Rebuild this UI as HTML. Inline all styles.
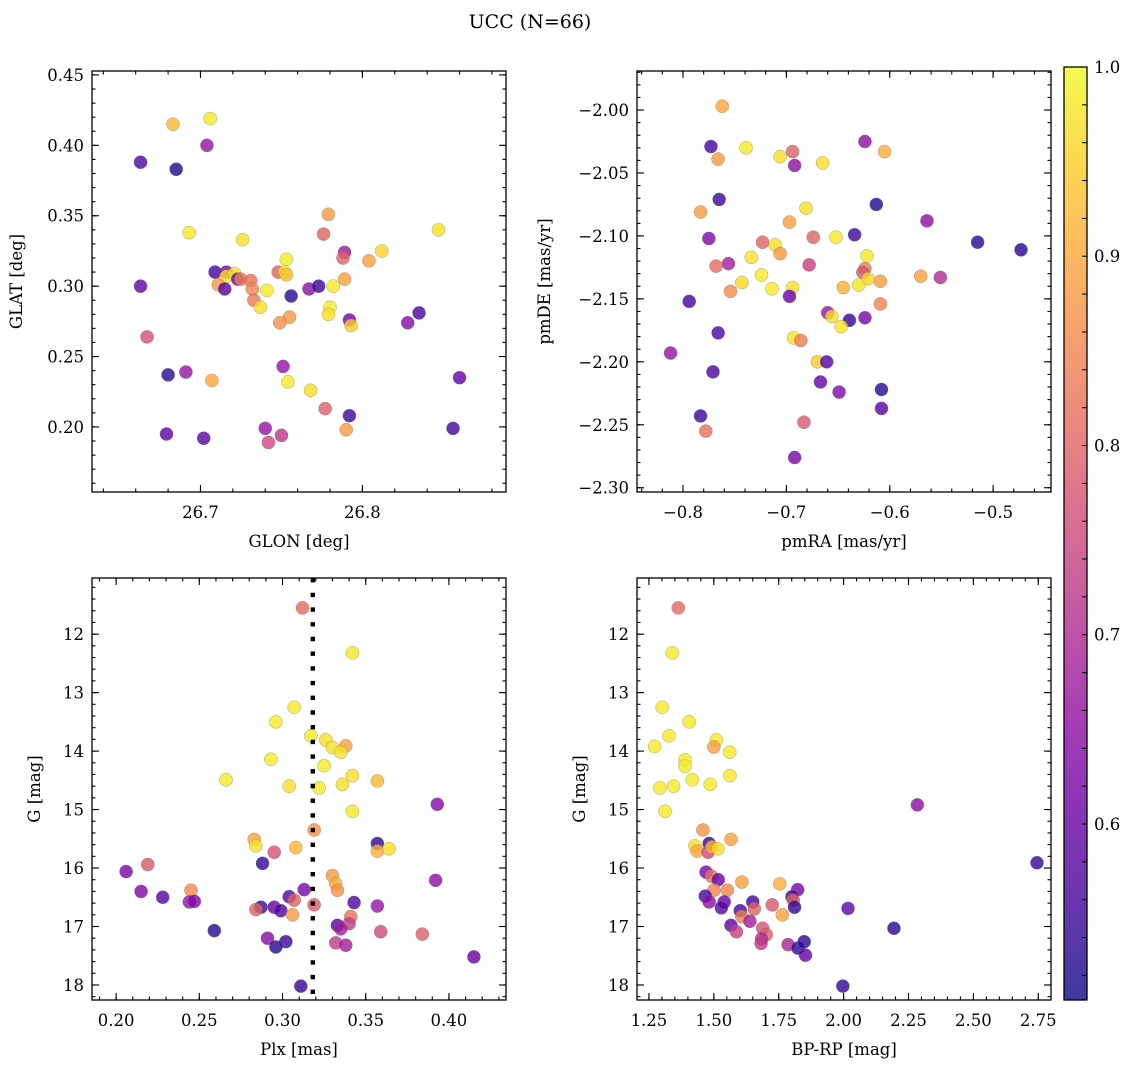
<!DOCTYPE html>
<html><head><meta charset="utf-8"><style>
html,body{margin:0;padding:0;background:#fff;}
svg{display:block;font-family:"DejaVu Serif","Liberation Serif",serif;}
</style></head><body>
<svg id="fig" width="1136" height="1067" viewBox="0 0 1136 1067" xmlns="http://www.w3.org/2000/svg">
<defs>
<linearGradient id="plasmaGrad" x1="0" y1="1" x2="0" y2="0">
<stop offset="0" stop-color="#0d0887"/><stop offset="0.1" stop-color="#41049d"/><stop offset="0.2" stop-color="#6a00a8"/><stop offset="0.3" stop-color="#8f0da4"/><stop offset="0.4" stop-color="#b12a90"/><stop offset="0.5" stop-color="#cc4778"/><stop offset="0.6" stop-color="#e16462"/><stop offset="0.7" stop-color="#f2844b"/><stop offset="0.8" stop-color="#fca636"/><stop offset="0.9" stop-color="#fcce25"/><stop offset="1" stop-color="#f0f921"/>
</linearGradient>
</defs>
<text x="530" y="28" font-size="19" text-anchor="middle">UCC (N=66)</text>
</svg>
<script>
// ---- Panel 1: GLON / GLAT ----
const glon = [26.663,26.685,26.683,26.706,26.704,26.693,26.726,26.779,26.776,26.847,26.789,26.788,26.812,26.804,26.753,26.709,26.716,26.716,26.721,26.711,26.715,26.723,26.725,26.731,26.732,26.733,26.737,26.741,26.748,26.752,26.753,26.756,26.767,26.773,26.782,26.789,26.780,26.779,26.755,26.749,26.792,26.793,26.828,26.835,26.663,26.667,26.680,26.691,26.707,26.751,26.754,26.768,26.777,26.792,26.790,26.860,26.856,26.679,26.702,26.740,26.750,26.742];
const glat = [0.388,0.383,0.415,0.419,0.400,0.338,0.333,0.351,0.337,0.340,0.324,0.320,0.325,0.318,0.319,0.310,0.310,0.307,0.309,0.301,0.298,0.305,0.305,0.304,0.298,0.290,0.285,0.297,0.310,0.310,0.308,0.293,0.298,0.300,0.300,0.305,0.285,0.280,0.278,0.274,0.276,0.272,0.274,0.281,0.300,0.264,0.237,0.239,0.233,0.243,0.232,0.226,0.213,0.208,0.198,0.235,0.199,0.195,0.192,0.199,0.194,0.189];
const probA = [0.57,0.52,0.92,0.98,0.66,0.98,0.97,0.88,0.80,0.97,0.67,0.80,0.96,0.89,0.98,0.56,0.62,0.97,0.97,0.88,0.58,0.60,0.84,0.82,0.85,0.83,0.97,0.98,0.80,0.98,0.93,0.53,0.65,0.55,0.98,0.89,0.98,0.97,0.88,0.87,0.62,0.95,0.64,0.57,0.59,0.76,0.53,0.66,0.90,0.66,0.98,0.97,0.79,0.55,0.88,0.60,0.56,0.59,0.58,0.66,0.72,0.75];
// ---- Panel 2: pmRA / pmDE ----
const pmra = [-0.762,-0.773,-0.766,-0.739,-0.706,-0.694,-0.692,-0.665,-0.624,-0.605,-0.765,-0.783,-0.613,-0.681,-0.697,-0.564,-0.775,-0.723,-0.711,-0.706,-0.674,-0.652,-0.634,-0.515,-0.473,-0.734,-0.756,-0.768,-0.678,-0.622,-0.624,-0.626,-0.724,-0.743,-0.754,-0.714,-0.694,-0.697,-0.645,-0.630,-0.621,-0.609,-0.570,-0.551,-0.794,-0.609,-0.660,-0.656,-0.639,-0.624,-0.647,-0.766,-0.693,-0.686,-0.812,-0.670,-0.661,-0.771,-0.667,-0.649,-0.608,-0.608,-0.783,-0.778,-0.683,-0.692];
const pmde = [-1.997,-2.029,-2.039,-2.030,-2.037,-2.033,-2.044,-2.042,-2.025,-2.033,-2.071,-2.081,-2.075,-2.078,-2.089,-2.088,-2.102,-2.105,-2.107,-2.114,-2.101,-2.101,-2.099,-2.105,-2.111,-2.117,-2.122,-2.124,-2.123,-2.116,-2.126,-2.129,-2.131,-2.137,-2.144,-2.142,-2.141,-2.148,-2.141,-2.139,-2.134,-2.136,-2.132,-2.133,-2.152,-2.154,-2.161,-2.164,-2.167,-2.165,-2.172,-2.177,-2.181,-2.183,-2.193,-2.200,-2.200,-2.208,-2.216,-2.224,-2.222,-2.237,-2.243,-2.255,-2.248,-2.276];
const probB = [0.90,0.56,0.88,0.98,0.97,0.79,0.65,0.97,0.65,0.91,0.55,0.88,0.52,0.97,0.89,0.65,0.63,0.80,0.97,0.88,0.80,0.98,0.55,0.53,0.53,0.97,0.68,0.81,0.74,0.98,0.84,0.77,0.98,0.96,0.86,0.98,0.97,0.60,0.91,0.98,0.96,0.89,0.89,0.70,0.56,0.85,0.66,0.97,0.54,0.62,0.97,0.57,0.97,0.84,0.66,0.94,0.58,0.57,0.60,0.63,0.53,0.58,0.55,0.82,0.78,0.62];
// ---- Panel 3: Plx / G ----
const plx = [0.312,0.342,0.307,0.296,0.317,0.326,0.330,0.338,0.335,0.293,0.325,0.266,0.304,0.322,0.336,0.342,0.357,0.342,0.393,0.319,0.283,0.284,0.295,0.308,0.357,0.357,0.364,0.288,0.219,0.206,0.330,0.332,0.333,0.392,0.215,0.228,0.245,0.244,0.247,0.313,0.304,0.307,0.287,0.284,0.295,0.299,0.306,0.319,0.343,0.357,0.341,0.340,0.333,0.335,0.359,0.384,0.259,0.291,0.302,0.296,0.332,0.338,0.415,0.311];
const gPlx = [11.55,12.32,13.25,13.50,13.74,13.81,13.94,13.91,14.02,14.14,14.25,14.49,14.60,14.63,14.57,14.42,14.51,15.03,14.91,15.35,15.51,15.62,15.73,15.65,15.58,15.71,15.67,15.92,15.94,16.06,16.13,16.27,16.38,16.21,16.40,16.50,16.38,16.58,16.57,16.37,16.49,16.55,16.67,16.71,16.67,16.73,16.80,16.63,16.59,16.65,16.83,16.95,16.98,17.04,17.09,17.13,17.07,17.20,17.26,17.35,17.28,17.32,17.52,18.02];
const probC = [0.81,0.98,0.98,0.98,0.98,0.97,0.97,0.89,0.97,0.98,0.98,0.98,0.97,0.98,0.97,0.97,0.92,0.98,0.64,0.87,0.89,0.97,0.77,0.92,0.54,0.91,0.97,0.54,0.78,0.62,0.88,0.91,0.87,0.65,0.63,0.58,0.86,0.66,0.63,0.62,0.57,0.80,0.55,0.80,0.60,0.57,0.88,0.78,0.57,0.66,0.82,0.73,0.58,0.68,0.75,0.79,0.53,0.64,0.55,0.53,0.73,0.68,0.60,0.54];
const plxMedian = [0.3182];
// ---- Panel 4: BP-RP / G ----
const bprp = [1.363,1.340,1.301,1.405,1.327,1.272,1.510,1.500,1.561,1.389,1.389,1.417,1.486,1.345,1.292,1.562,1.312,2.284,1.458,1.566,1.482,1.427,1.435,1.478,1.493,1.516,2.745,1.470,1.491,1.517,1.608,1.754,1.500,1.552,1.823,1.467,1.482,1.540,1.529,1.650,1.656,1.602,1.608,1.725,1.764,1.801,1.806,1.811,2.017,2.194,1.639,1.566,1.587,1.688,1.702,1.684,1.682,1.786,1.824,1.848,1.853,1.997];
const gCmd = [11.55,12.32,13.25,13.50,13.74,13.92,13.81,13.93,14.02,14.15,14.26,14.49,14.57,14.60,14.63,14.42,15.03,14.92,15.35,15.51,15.58,15.62,15.71,15.73,15.64,15.67,15.91,16.07,16.14,16.20,16.24,16.27,16.38,16.38,16.37,16.48,16.58,16.58,16.68,16.58,16.70,16.73,16.83,16.63,16.80,16.49,16.55,16.67,16.69,17.03,16.91,16.98,17.09,17.03,17.14,17.21,17.29,17.31,17.37,17.26,17.49,18.02];
const probD = [0.81,0.98,0.98,0.98,0.98,0.98,0.98,0.89,0.98,0.98,0.98,0.98,0.98,0.98,0.98,0.98,0.98,0.65,0.87,0.89,0.55,0.97,0.90,0.75,0.92,0.97,0.54,0.62,0.82,0.60,0.89,0.91,0.85,0.85,0.62,0.56,0.65,0.60,0.58,0.56,0.80,0.56,0.84,0.78,0.89,0.55,0.80,0.54,0.59,0.53,0.68,0.58,0.74,0.76,0.79,0.70,0.73,0.69,0.53,0.54,0.60,0.54];
// ---- tick labels ----
const ticksGlon = ["26.7","26.8"];
const ticksGlat = ["0.20","0.25","0.30","0.35","0.40","0.45"];
const ticksPmra = ["−0.8","−0.7","−0.6","−0.5"];
const ticksPmde = ["−2.30","−2.25","−2.20","−2.15","−2.10","−2.05","−2.00"];
const ticksPlx = ["0.20","0.25","0.30","0.35","0.40"];
const ticksG = ["12","13","14","15","16","17","18"];
const ticksBprp = ["1.25","1.50","1.75","2.00","2.25","2.50","2.75"];
const ticksCbar = ["0.6","0.7","0.8","0.9","1.0"];

const NS = "http://www.w3.org/2000/svg";
const svg = document.getElementById('fig');
const FS = 16.5;
function mk(tag, attrs, parent){const e=document.createElementNS(NS,tag);for(const k in attrs)e.setAttribute(k,attrs[k]);(parent||svg).appendChild(e);return e;}
const VMIN=0.507, VMAX=1.0;
const stops=[[13,8,135],[65,4,157],[106,0,168],[143,13,164],[177,42,144],[204,71,120],[225,100,98],[242,132,75],[252,166,54],[252,206,37],[240,249,33]];
function plasma(v){let t=(v-VMIN)/(VMAX-VMIN);t=Math.max(0,Math.min(1,t))*10;const i=Math.min(9,Math.floor(t));const f=t-i;const a=stops[i],b=stops[i+1];return 'rgb('+a.map((x,k)=>Math.round(x+(b[k]-x)*f)).join(',')+')';}

function panel(name, box, xd, yd, xMajor, xMinor, yMajor, yMinor, xLabs, yLabs, xTitle, yTitle, yTitleX, invertY){
  const [L,T,R,B]=box;
  const sx=v=>L+(v-xd[0])/(xd[1]-xd[0])*(R-L);
  const sy=invertY? (v=>T+(v-yd[0])/(yd[1]-yd[0])*(B-T)) : (v=>B-(v-yd[0])/(yd[1]-yd[0])*(B-T));
  const g=mk('g',{});
  
  
  const ax=mk('g',{stroke:'#000','stroke-width':1.1},g);
  
  
  function tick(v,isX,len){
    if(isX){const x=sx(v); if(x<L-0.5||x>R+0.5)return; mk('line',{x1:x,x2:x,y1:B,y2:B-len},ax);mk('line',{x1:x,x2:x,y1:T,y2:T+len},ax);}
    else{const y=sy(v); if(y<T-0.5||y>B+0.5)return; mk('line',{x1:L,x2:L+len,y1:y,y2:y},ax);mk('line',{x1:R,x2:R-len,y1:y,y2:y},ax);}
  }
  for(let v=Math.ceil(xd[0]/xMinor)*xMinor; v<=xd[1]; v+=xMinor) tick(v,true,3.5);
  for(let v=Math.ceil(Math.min(yd[0],yd[1])/yMinor)*yMinor; v<=Math.max(yd[0],yd[1]); v+=yMinor) tick(v,false,3.5);
  xLabs.forEach((s,i)=>{const v=xMajor[0]+i*xMajor[1];tick(v,true,7);
    const t=mk('text',{x:sx(v),y:B+26,'font-size':FS,'text-anchor':'middle'},g);t.textContent=s;
    
    });
  yLabs.forEach((s,i)=>{const v=yMajor[0]+i*yMajor[1];tick(v,false,7);
    const y=sy(v); if(y<T-2||y>B+2)return;
    const t=mk('text',{x:L-8,y:y+6,'font-size':FS,'text-anchor':'end'},g);t.textContent=s;
    
    });
  const xt=mk('text',{x:(L+R)/2,y:B+55,'font-size':FS,'text-anchor':'middle'},g);xt.textContent=xTitle;
  
  
  const yt=mk('text',{x:yTitleX,y:(T+B)/2,'font-size':FS,'text-anchor':'middle',transform:'rotate(-90 '+yTitleX+' '+(T+B)/2+')'},g);yt.textContent=yTitle;
  
  
  return {g,sx,sy,box};
}
function scatter(p,name,xs,ys,cs){
  const pts=mk('g',{},p.g);
  
  
  xs.forEach((xv,i)=>{const c=mk('circle',{cx:p.sx(xv),cy:p.sy(ys[i]),r:6.6,fill:plasma(cs[i]),'fill-opacity':0.8,stroke:'#777','stroke-opacity':0.6,'stroke-width':0.5},pts);
    
    });
}
function frame(p,name){const [L,T,R,B]=p.box;const r=mk('rect',{x:L,y:T,width:R-L,height:B-T,fill:'none',stroke:'#000','stroke-width':1.3},p.g);
  
  }

const p1=panel('glon-glat',[92,71,506,492],[26.633,26.8887],[0.1538,0.4528],[26.7,0.1],0.02,[0.20,0.05],0.01,ticksGlon,ticksGlat,'GLON [deg]','GLAT [deg]',22,false);
scatter(p1,'glon-glat',glon,glat,probA); frame(p1,'glon-glat');
const p2=panel('pm',[637,71,1051,492],[-0.8445,-0.444],[-2.3034,-1.969],[-0.8,0.1],0.02,[-2.30,0.05],0.01,ticksPmra,ticksPmde,'pmRA [mas/yr]','pmDE [mas/yr]',550,false);
scatter(p2,'pm',pmra,pmde,probB); frame(p2,'pm');
const p3=panel('plx-g',[92,578,506,1000],[0.1855,0.4343],[11.04,18.257],[0.20,0.05],0.01,[12,1],0.2,ticksPlx,ticksG,'Plx [mas]','G [mag]',40,true);
scatter(p3,'plx-g',plx,gPlx,probC);
const ml=mk('line',{x1:p3.sx(plxMedian[0]),x2:p3.sx(plxMedian[0]),y1:578,y2:1000,stroke:'#000','stroke-width':4.4,'stroke-dasharray':'4.4 10.3'},p3.g);


frame(p3,'plx-g');
const p4=panel('cmd',[637,578,1051,1000],[1.204,2.799],[11.04,18.257],[1.25,0.25],0.05,[12,1],0.2,ticksBprp,ticksG,'BP-RP [mag]','G [mag]',585,true);
scatter(p4,'cmd',bprp,gCmd,probD); frame(p4,'cmd');

// colorbar
const cb=mk('g',{});


const CT=67, CB=1000, CL=1064, CR=1087;
const cy=v=>CB-(v-VMIN)/(VMAX-VMIN)*(CB-CT);
mk('rect',{x:CL,y:CT,width:CR-CL,height:CB-CT,fill:'url(#plasmaGrad)','fill-opacity':0.8},cb);
for(let v=0.52; v<=1.0001; v+=0.02){mk('line',{x1:CR,x2:CR-5,y1:cy(v),y2:cy(v),stroke:'#000','stroke-width':1},cb);}
ticksCbar.forEach((s,i)=>{const v=0.6+i*0.1;const t=mk('text',{x:CR+7,y:cy(v)+6,'font-size':FS},cb);t.textContent=s;
  
  });
mk('rect',{x:CL,y:CT,width:CR-CL,height:CB-CT,fill:'none',stroke:'#000','stroke-width':1.3},cb);
</script>
</body></html>
